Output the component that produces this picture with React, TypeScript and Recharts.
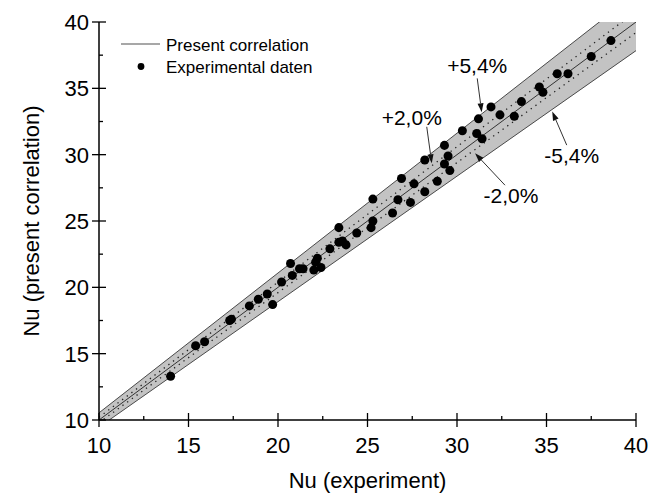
import React from 'react';
import {
  ComposedChart, Area, Line, Scatter, XAxis, YAxis, ReferenceLine, Legend,
} from 'recharts';

// Nu from experiment vs. Nu from the present correlation
const expNu = [14.0, 15.4, 15.9, 17.3, 17.4, 18.4, 18.9, 19.4, 19.7, 20.2, 20.7, 20.8, 21.2, 21.4, 22.0, 22.1, 22.2, 22.4, 22.9, 23.4, 23.4, 23.6, 23.8, 24.4, 25.2, 25.3, 25.3, 26.4, 26.7, 27.4, 26.9, 27.6, 28.2, 28.2, 28.9, 29.3, 29.5, 29.3, 29.6, 30.3, 31.1, 31.4, 31.2, 31.9, 32.4, 33.2, 33.6, 34.6, 34.8, 35.6, 36.2, 37.5, 38.6];
const corrNu = [13.3, 15.6, 15.9, 17.5, 17.6, 18.6, 19.1, 19.5, 18.7, 20.4, 21.8, 20.9, 21.4, 21.4, 21.3, 21.9, 22.2, 21.5, 22.9, 24.5, 23.4, 23.5, 23.2, 24.1, 24.5, 25.0, 26.65, 25.6, 26.6, 26.4, 28.2, 27.8, 27.2, 29.6, 28.0, 30.7, 29.9, 29.3, 28.8, 31.8, 31.6, 31.2, 32.7, 33.6, 33.0, 32.9, 34.0, 35.1, 34.7, 36.1, 36.1, 37.4, 38.6];

// correlation line and the +-2.0 % / +-5.4 % bounds at both ends of the axis
const lineX = [10, 40];
const centre = [10, 40];
const plus54 = [10.54, 42.16];
const minus54 = [9.46, 37.84];
const plus20 = [10.2, 40.8];
const minus20 = [9.8, 39.2];

const ticks = [10, 12.5, 15, 17.5, 20, 22.5, 25, 27.5, 30, 32.5, 35, 37.5, 40];

// arrow annotations: text, arrow start, arrow tip, text offset (px) from start
const notes = [
  { text: '+5,4%', from: [31.13, 35.75], to: [31.38, 33.2], dx: 0, dy: -5 },
  { text: '+2,0%', from: [28.31, 32.1], to: [28.59, 29.35], dx: -15, dy: -2 },
  { text: '-2,0%', from: [32.68, 27.7], to: [31.01, 30.1], dx: 6, dy: 18 },
  { text: '-5,4%', from: [36.13, 30.72], to: [35.32, 33.25], dx: 5, dy: 18 },
];

const lineRows = lineX.map((x, i) => ({
  x,
  centre: centre[i],
  band: [minus54[i], plus54[i]],
  hi54: plus54[i],
  lo54: minus54[i],
  hi20: plus20[i],
  lo20: minus20[i],
}));

const points = expNu.map((x, i) => ({ x, y: corrNu[i] }));

const FONT = '"Liberation Sans", Arial, sans-serif';

const XTick = (props: any) => {
  const { x, y, payload } = props;
  const major = payload.value % 5 === 0;
  return (
    <g>
      <line x1={x} x2={x} y1={y - (major ? 7 : 4)} y2={y + (major ? 7 : 0)} stroke="#000" strokeWidth={1.3} />
      {major && (
        <text x={x} y={y + 33} textAnchor="middle" fontSize={22} fill="#000" fontFamily={FONT}>
          {payload.value}
        </text>
      )}
    </g>
  );
};

const YTick = (props: any) => {
  const { x, y, payload } = props;
  const major = payload.value % 5 === 0;
  return (
    <g>
      <line x1={x - (major ? 7 : 0)} x2={x + (major ? 7 : 4)} y1={y} y2={y} stroke="#000" strokeWidth={1.3} />
      {major && (
        <text x={x - 10} y={y + 8} textAnchor="end" fontSize={22} fill="#000" fontFamily={FONT}>
          {payload.value}
        </text>
      )}
    </g>
  );
};

const arrowShape = (n: any) => (p: any) => {
  const { x1, y1, x2, y2 } = p;
  const ang = Math.atan2(y2 - y1, x2 - x1);
  const len = 9;
  const w = 3;
  const bx = x2 - len * Math.cos(ang);
  const by = y2 - len * Math.sin(ang);
  const pts = `${x2},${y2} ${bx - w * Math.sin(ang)},${by + w * Math.cos(ang)} ${bx + w * Math.sin(ang)},${by - w * Math.cos(ang)}`;
  return (
    <g>
      <line x1={x1} y1={y1} x2={bx} y2={by} stroke="#333" strokeWidth={1} />
      <polygon points={pts} fill="#111" />
      <text x={x1 + n.dx} y={y1 + n.dy} textAnchor="middle" fontSize={21} fill="#000" fontFamily={FONT}>
        {n.text}
      </text>
    </g>
  );
};

const LegendBox = () => (
  <svg width={200} height={46} style={{ display: 'block' }}>
    <line x1={0} x2={39} y1={10} y2={10} stroke="#8a8a8a" strokeWidth={1.3} />
    <text x={45} y={16.5} fontSize={17} fill="#000" fontFamily={FONT}>Present correlation</text>
    <circle cx={20} cy={32.5} r={3.4} fill="#000" />
    <text x={45} y={38.5} fontSize={17} fill="#000" fontFamily={FONT}>Experimental daten</text>
  </svg>
);

export default function App() {
  return (
    <div style={{ position: 'absolute', left: 0, top: 0, width: 664, height: 494, background: '#fff', fontFamily: FONT }}>
      <ComposedChart width={664} height={494} data={lineRows} margin={{ top: 22, right: 28, bottom: 0, left: 0 }}>
        <XAxis
          dataKey="x"
          type="number"
          domain={[10, 40]}
          ticks={ticks}
          interval={0}
          allowDataOverflow
          height={74}
          tickSize={0}
          tickMargin={0}
          tickLine={false}
          tick={<XTick />}
          axisLine={{ stroke: '#000', strokeWidth: 1.5 }}
          label={{ value: 'Nu (experiment)', position: 'insideBottom', offset: 6, fontSize: 22, fill: '#000' }}
        />
        <XAxis xAxisId="top" orientation="top" type="number" domain={[10, 40]} height={0} tick={false} tickLine={false} axisLine={{ stroke: '#000', strokeWidth: 1.5 }} />
        <YAxis
          type="number"
          domain={[10, 40]}
          ticks={ticks}
          interval={0}
          allowDataOverflow
          width={99}
          tickSize={0}
          tickMargin={0}
          tickLine={false}
          tick={<YTick />}
          axisLine={{ stroke: '#000', strokeWidth: 1.5 }}
          label={{ value: 'Nu (present correlation)', angle: -90, position: 'insideLeft', offset: 31, fontSize: 22, fill: '#000', style: { textAnchor: 'middle' } }}
        />
        <YAxis yAxisId="right" orientation="right" type="number" domain={[10, 40]} width={0} tick={false} tickLine={false} axisLine={{ stroke: '#000', strokeWidth: 1.5 }} />
        <Area dataKey="band" type="linear" fill="#c3c3c3" fillOpacity={1} stroke="none" isAnimationActive={false} legendType="none" />
        <Line dataKey="hi54" type="linear" stroke="#4a4a4a" strokeWidth={1} dot={false} isAnimationActive={false} legendType="none" />
        <Line dataKey="lo54" type="linear" stroke="#4a4a4a" strokeWidth={1} dot={false} isAnimationActive={false} legendType="none" />
        <Line dataKey="hi20" type="linear" stroke="#222" strokeWidth={1.3} strokeDasharray="1.3 4.5" dot={false} isAnimationActive={false} legendType="none" />
        <Line dataKey="lo20" type="linear" stroke="#222" strokeWidth={1.3} strokeDasharray="1.3 4.5" dot={false} isAnimationActive={false} legendType="none" />
        <Line dataKey="centre" type="linear" stroke="#333" strokeWidth={1} dot={false} isAnimationActive={false} legendType="none" />
        <Scatter data={points} dataKey="y" fill="#000" isAnimationActive={false} legendType="none" />
        {notes.map((n) => (
          <ReferenceLine
            key={n.text}
            segment={[{ x: n.from[0], y: n.from[1] }, { x: n.to[0], y: n.to[1] }]}
            ifOverflow="visible"
            shape={arrowShape(n)}
          />
        ))}
        <Legend
          layout="vertical"
          align="center"
          verticalAlign="middle"
          content={<LegendBox />}
          wrapperStyle={{ position: 'absolute', top: 33.5, left: 121, width: 200, height: 46 }}
        />
      </ComposedChart>
    </div>
  );
}
